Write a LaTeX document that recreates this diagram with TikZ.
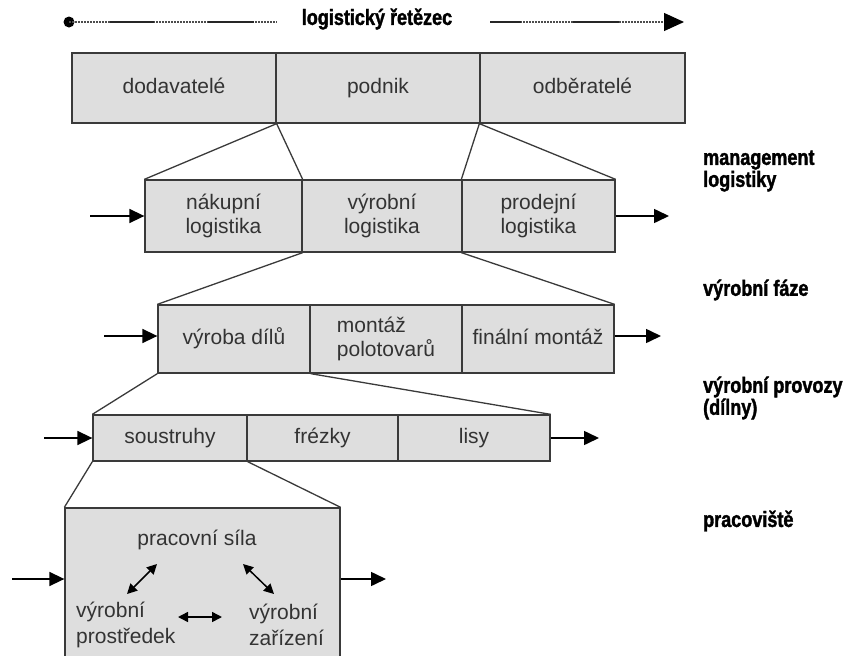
\documentclass[tikz,border=0pt]{standalone}
\usepackage{fontspec}
\setmainfont{Liberation Sans}
\newfontfamily\labfont{Liberation Sans Bold}[FakeStretch=0.82, FakeBold=1.6]
\usetikzlibrary{arrows.meta}
\definecolor{boxfill}{HTML}{DEDEDE}
\definecolor{linec}{HTML}{3A3A3A}
\definecolor{txtc}{HTML}{333333}
\begin{document}
\begin{tikzpicture}[x=1pt,y=-1pt,
  cell/.style={draw=linec, line width=1.3pt, fill=boxfill, inner sep=0pt, text=txtc,
    font=\fontsize{21}{24}\selectfont, align=center},
  one/.style={text height=15pt, text depth=5pt},
  lab/.style={font=\labfont\fontsize{22}{22}\selectfont, align=left, anchor=west, inner sep=0pt},
  flow/.style={draw=black, line width=1.6pt, -{Triangle[length=15pt,width=14pt]}},
  zoomline/.style={draw=linec, line width=1.3pt},
  dotline/.style={draw=black!70, line width=1.2pt, dash pattern=on 1.5pt off 1.5pt},
  solidseg/.style={draw=black!85, line width=2pt},
  dbl/.style={line width=1.5pt, {Triangle[length=10pt,width=10pt]}-{Triangle[length=10pt,width=10pt]}},
  inner/.style={inner sep=0pt, text=txtc, font=\fontsize{21}{26}\selectfont, align=left}]
\useasboundingbox (0,0) rectangle (844,656);

% header
\node[circle, fill=black, inner sep=0pt, minimum size=11pt] (dot) at (69,22) {};
\node[lab, anchor=center] (title) at (377,19) {logistický řetězec};
\coordinate (lend) at (277,22);
\coordinate (rstart) at (490,22);
\coordinate (tip) at (684,22);
\draw[dotline] (dot.center) -- (lend);
\draw[solidseg, dash pattern=on 0pt off 41pt on 44pt off 54pt on 46pt off 200pt] (dot.center) -- (lend);
\draw[dotline, -{Triangle[length=20pt,width=18pt,color=black,fill=black]}] (rstart) -- (tip);
\draw[solidseg, dash pattern=on 31pt off 52pt on 46pt off 200pt] (rstart) -- (tip);

% row 1
\node[cell, one, minimum width=204pt, minimum height=70pt] (r1a) at (174,88) {dodavatelé};
\node[cell, one, minimum width=204pt, minimum height=70pt] (r1b) at (378,88) {podnik};
\node[cell, one, minimum width=205pt, minimum height=70pt] (r1c) at (582.5,88) {odběratelé};

% row 2
\node[cell, minimum width=157pt, minimum height=72pt] (r2a) at (223.5,216) {nákupní\\logistika};
\node[cell, minimum width=160pt, minimum height=72pt] (r2b) at (382,216) {výrobní\\logistika};
\node[cell, minimum width=153pt, minimum height=72pt] (r2c) at (538.5,216) {prodejní\\logistika};

% row 3
\node[cell, one, minimum width=152pt, minimum height=68pt] (r3a) at (234,339) {výroba dílů};
\node[cell, minimum width=152pt, minimum height=68pt, align=left] (r3b) at (386,339) {montáž\\polotovarů};
\node[cell, one, minimum width=152pt, minimum height=68pt] (r3c) at (538,339) {finální montáž};

% row 4
\node[cell, one, minimum width=154pt, minimum height=46pt] (r4a) at (170,438) {soustruhy};
\node[cell, one, minimum width=151pt, minimum height=46pt] (r4b) at (322.5,438) {frézky};
\node[cell, one, minimum width=152pt, minimum height=46pt] (r4c) at (474,438) {lisy};

% row 5
\node[cell, minimum width=275pt, minimum height=160pt] (r5) at (202.5,588) {};
\node[inner, anchor=center] (ps) at (197,540) {pracovní síla};
\node[inner, anchor=west] (vp) at (76,625) {výrobní\\prostředek};
\node[inner, anchor=west] (vz) at (249,625) {výrobní\\zařízení};
\coordinate (d1a) at (127,594);
\coordinate (d1b) at (157,564);
\coordinate (d2a) at (243,564);
\coordinate (d2b) at (274,594);
\coordinate (d3a) at (178,617);
\coordinate (d3b) at (222,617);
\draw[dbl] (d1a) -- (d1b);
\draw[dbl] (d2a) -- (d2b);
\draw[dbl] (d3a) -- (d3b);

% zoom lines
\draw[zoomline] (r1a.south east) -- (r2a.north west);
\draw[zoomline] (r1a.south east) -- (r2a.north east);
\draw[zoomline] (r1c.south west) -- (r2c.north west);
\draw[zoomline] (r1c.south west) -- (r2c.north east);
\draw[zoomline] (r2a.south east) -- (r3a.north west);
\draw[zoomline] (r2c.south west) -- (r3c.north east);
\draw[zoomline] (r3a.south west) -- (r4a.north west);
\draw[zoomline] (r3a.south east) -- (r4c.north east);
\draw[zoomline] (r4a.south west) -- (r5.north west);
\draw[zoomline] (r4a.south east) -- (r5.north east);

% flow arrows
\coordinate (i2) at (90,216);  \coordinate (o2) at (669,216);
\coordinate (i3) at (104,336); \coordinate (o3) at (661,336);
\coordinate (i4) at (44,438);  \coordinate (o4) at (599,438);
\coordinate (i5) at (12,579);  \coordinate (o5) at (386,579);
\draw[flow] (i2) -- (r2a.west);
\draw[flow] (r2c.east) -- (o2);
\draw[flow] (i3) -- (r3a.west |- i3);
\draw[flow] (r3c.east |- o3) -- (o3);
\draw[flow] (i4) -- (r4a.west);
\draw[flow] (r4c.east) -- (o4);
\draw[flow] (i5) -- (r5.west |- i5);
\draw[flow] (r5.east |- o5) -- (o5);

% level labels
\node[lab] (l1) at (703,171) {management\\logistiky};
\node[lab] (l2) at (703,290) {výrobní fáze};
\node[lab] (l3) at (703,398) {výrobní provozy\\(dílny)};
\node[lab] (l4) at (703,521) {pracoviště};
\end{tikzpicture}
\end{document}
